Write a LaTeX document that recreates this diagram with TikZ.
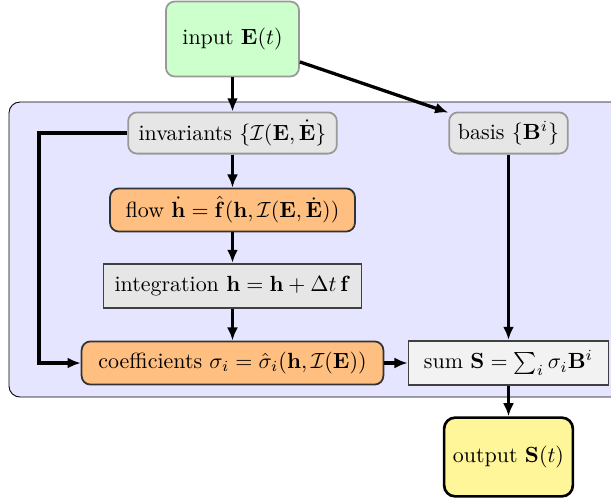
\documentclass[tikz,border=0pt]{standalone}
\usetikzlibrary{arrows.meta}
\definecolor{ingreen}{HTML}{CCFFCC}
\definecolor{boxgray}{HTML}{E6E6E6}
\definecolor{sumgray}{HTML}{F2F2F2}
\definecolor{netorange}{HTML}{FFBF80}
\definecolor{outyellow}{HTML}{FFF599}
\definecolor{bgblue}{HTML}{E5E5FF}
\begin{document}
\begin{tikzpicture}[x=0.016cm, y=-0.016cm]
	\tikzset{g/.style={draw=black!40, fill=boxgray, rounded corners=4pt, minimum height=0.66cm, inner sep=2pt, thick},
	o/.style={draw=black!80, fill=netorange, rounded corners=4pt, minimum height=0.69cm, inner sep=2pt, thick},
	r/.style={draw=black!75, minimum height=0.71cm, inner sep=2pt, thick},
	f/.style={-{Latex[length=6pt, width=5pt]}, line width=1.5pt}};

	\useasboundingbox (0,0) rectangle (611,500);
	\draw[fill=bgblue, rounded corners=5pt] (9,102) rectangle (640,397);

	\node[g, fill=ingreen, minimum width=2.13cm, minimum height=1.2cm] (input) at (232.5,39) {input $\mathbf{E}(t)$};
	\node[g, minimum width=3.34cm] (inv) at (232.5,133) {invariants $\{\mathcal{I}(\mathbf{E},\dot{\mathbf{E}}\}$};
	\node[g, minimum width=1.9cm] (basis) at (508.5,133) {basis $\{\mathbf{B}^i\}$};
	\node[o, minimum width=3.92cm] (flow) at (232.5,210) {flow $\dot{\mathbf{h}}=\hat{\mathbf{f}}(\mathbf{h},\mathcal{I}(\mathbf{E},\dot{\mathbf{E}}))$};
	\node[r, fill=boxgray, minimum width=4.13cm] (integ) at (232.5,286) {integration $\mathbf{h}=\mathbf{h}+\Delta t\,\mathbf{f}$};
	\node[o, minimum width=4.83cm] (coef) at (232.5,363) {coefficients $\sigma_i=\hat{\sigma}_i(\mathbf{h},\mathcal{I}(\mathbf{E}))$};
	\node[r, fill=sumgray, minimum width=3.2cm] (sum) at (508.5,363) {sum $\mathbf{S}=\sum_i\sigma_i\mathbf{B}^i$};
	\node[draw, fill=outyellow, rounded corners=5pt, very thick, minimum width=2.06cm, minimum height=1.26cm] (output) at (508.5,457) {output $\mathbf{S}(t)$};
	\coordinate (loop) at (39,133);

	\draw[f] (input) -- (inv);
	\draw[f] (input) -- (basis);
	\draw[f] (inv) -- (flow);
	\draw[f] (flow) -- (integ);
	\draw[f] (integ) -- (coef);
	\draw[f] (inv.west) -- (loop) |- (coef.west);
	\draw[f] (coef) -- (sum);
	\draw[f] (basis) -- (sum);
	\draw[f] (sum) -- (output);
\end{tikzpicture}
\end{document}
